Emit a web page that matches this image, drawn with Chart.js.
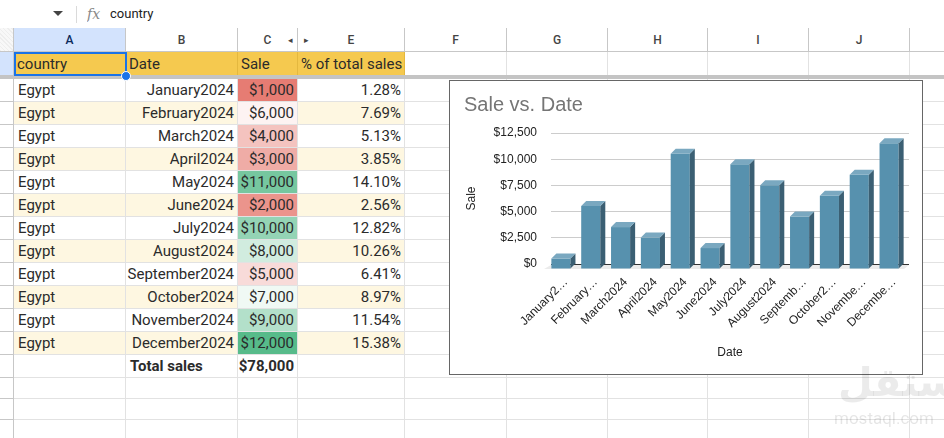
<!DOCTYPE html>
<html>
<head>
<meta charset="utf-8">
<script src="https://cdn.jsdelivr.net/npm/chart.js@4.4.1/dist/chart.umd.min.js"></script>
<style>
  html, body { margin: 0; padding: 0; background: #fff; }
  body { width: 944px; height: 438px; position: relative; overflow: hidden; font-family: Roboto, "Liberation Sans", sans-serif; }
  .c { position: absolute; box-sizing: border-box; white-space: nowrap; overflow: hidden; color: #2b2b2b; font-size: 15px; }
  #chartBox { position: absolute; left: 449px; top: 80px; width: 474px; height: 295px; box-sizing: border-box; border: 1px solid #666; background: #fff; z-index: 5; }
  #chartBox canvas { display: block; }
</style>
</head>
<body>
<div id="sheet"></div>
<div id="chartBox"><canvas id="myChart" width="472" height="293"></canvas></div>
<script>
// data
const country = 'Egypt';
const months = ['January2024', 'February2024', 'March2024', 'April2024', 'May2024', 'June2024',
  'July2024', 'August2024', 'September2024', 'October2024', 'November2024', 'December2024'];
const sales = [1000, 6000, 4000, 3000, 11000, 2000, 10000, 8000, 5000, 7000, 9000, 12000];
const shares = [1.28, 7.69, 5.13, 3.85, 14.10, 2.56, 12.82, 10.26, 6.41, 8.97, 11.54, 15.38];
const totalSales = 78000;
const headers = ['country', 'Date', 'Sale', '% of total sales'];
const colLetters = ['', 'A', 'B', 'C', 'E', 'F', 'G', 'H', 'I', 'J', ''];

// sheet layout
const colEdges = [0, 14, 126, 238, 298, 405, 507, 608, 708, 809, 910, 1010];
const sheet = document.getElementById('sheet');

function cell(x, y, w, h, text, st) {
  const d = document.createElement('div');
  d.className = 'c';
  d.style.left = x + 'px';
  d.style.top = y + 'px';
  d.style.width = w + 'px';
  d.style.height = h + 'px';
  d.style.lineHeight = h + 'px';
  d.textContent = text || '';
  Object.assign(d.style, st || {});
  sheet.appendChild(d);
  return d;
}

const money = v => '$' + v.toLocaleString('en-US');

// toolbar
cell(0, 0, 944, 29, '', {borderBottom: '1px solid #c7c7c7'});
cell(53, 11, 0, 0, '', {borderLeft: '5px solid transparent', borderRight: '5px solid transparent', borderTop: '5px solid #444', width: '0', height: '0'});
cell(76, 6, 1, 17, '', {background: '#dadada'});
cell(87, 3, 20, 22, 'fx', {fontFamily: '"DejaVu Serif", serif', fontStyle: 'italic', color: '#888', fontSize: '14px'});
cell(110, 3, 120, 22, 'country', {fontSize: '13px', color: '#222'});

// column header row
for (let i = 0; i < colLetters.length; i++) {
  const x = colEdges[i], w = colEdges[i + 1] - colEdges[i];
  cell(x, 28, w, 24, colLetters[i], {
    textAlign: 'center', fontSize: '12px', fontWeight: '500',
    borderRight: '1px solid #c7c7c7', borderBottom: '1px solid #c7c7c7',
    background: i === 1 ? '#d3e3fd' : (i === 0 ? 'repeating-linear-gradient(45deg,#eee 0 1px,#f8f8f8 1px 3px)' : '#fff'),
    color: i === 1 ? '#0b2a5c' : '#444'
  });
}
cell(284, 28, 12, 24, '◂', {fontSize: '9px', color: '#444', textAlign: 'center'});
cell(300, 28, 12, 24, '▸', {fontSize: '9px', color: '#444', textAlign: 'center'});

// row tops
const rowTops = [52];
const rowHs = [24];
for (let r = 0; r < 13; r++) { rowTops.push(79 + r * 23); rowHs.push(23); }
for (let r = 0; r < 3; r++) { rowTops.push(378 + r * 21); rowHs.push(21); }

// color scale for Sale column
function scaleColor(v) {
  const mid = 6500, lo = 1000, hi = 12000;
  const red = [230, 124, 115], green = [87, 187, 138], white = [255, 255, 255];
  let t, c;
  if (v <= mid) { t = (mid - v) / (mid - lo); c = red; } else { t = (v - mid) / (hi - mid); c = green; }
  const m = white.map((w, k) => Math.round(w + (c[k] - w) * t));
  return 'rgb(' + m.join(',') + ')';
}

for (let r = 0; r < rowTops.length; r++) {
  const y = rowTops[r], h = rowHs[r];
  for (let i = 0; i < colLetters.length; i++) {
    const x = colEdges[i], w = colEdges[i + 1] - colEdges[i];
    let bg = '#fff', text = '', st = {};
    const grid = (i === 0) ? '#c7c7c7' : '#e2e2e2';
    if (r === 0 && i >= 1 && i <= 4) { bg = '#f5c94f'; text = headers[i - 1]; st = {borderRight: '1px solid #e4b83f', paddingLeft: '3px'}; }
    if (r === 0 && i === 0) bg = '#d3e3fd';
    if (r >= 1 && r <= 12) {
      const k = r - 1;
      if (i >= 1 && i <= 4 && k % 2 === 1) bg = '#fef7e1';
      if (i === 1) { text = country; st = {paddingLeft: '4px'}; }
      if (i === 2) { text = months[k]; st = {textAlign: 'right', paddingRight: '3px'}; }
      if (i === 3) { text = money(sales[k]); bg = scaleColor(sales[k]); st = {textAlign: 'right', paddingRight: '3px'}; }
      if (i === 4) { text = shares[k].toFixed(2) + '%'; st = {textAlign: 'right', paddingRight: '3px'}; }
    }
    if (r === 13) {
      if (i === 2) { text = 'Total sales'; st = {fontWeight: 'bold', paddingLeft: '4px'}; }
      if (i === 3) { text = money(totalSales); st = {fontWeight: 'bold', textAlign: 'right', paddingRight: '3px'}; }
    }
    cell(x, y, w, h, text, Object.assign({background: bg, borderRight: '1px solid ' + grid, borderBottom: '1px solid ' + grid}, st));
  }
}
// frozen row separator
cell(0, 75, 944, 4, '', {background: '#c4c4c4'});
// selection
cell(14, 52, 113, 24, '', {border: '2px solid #1a73e8', zIndex: 3});
cell(121, 71, 10, 10, '', {background: '#1a73e8', borderRadius: '50%', border: '1px solid #fff', zIndex: 4});

// watermark
cell(838, 354, 106, 56, 'مستقل', {fontFamily: '"DejaVu Sans", sans-serif', fontWeight: 'bold', fontSize: '40px', color: 'rgba(0,0,0,0.08)', zIndex: 6, overflow: 'visible'});
cell(834, 406, 110, 24, 'mostaql.com', {fontFamily: 'Roboto, sans-serif', fontSize: '17px', color: 'rgba(0,0,0,0.10)', zIndex: 6});

// chart
Chart.defaults.font.family = '"Liberation Sans", Arial, sans-serif';
Chart.defaults.font.size = 12;

const frontColor = '#5791ae';
const topColor = '#7aa8c0';
const sideColor = '#3b5f73';
const depth = 5;

const measureCtx = document.createElement('canvas').getContext('2d');
measureCtx.font = '12px "Liberation Sans", Arial, sans-serif';
function shorten(lbl) {
  const maxW = 65.5;
  if (measureCtx.measureText(lbl).width <= maxW) return lbl;
  let s = lbl;
  while (s.length > 1 && measureCtx.measureText(s + '…').width > maxW) s = s.slice(0, -1);
  return s + '…';
}

const bar3d = {
  id: 'bar3d',
  beforeDatasetsDraw(chart) {
    const {ctx, chartArea} = chart;
    ctx.save();
    ctx.fillStyle = '#ebebeb';
    ctx.beginPath();
    ctx.moveTo(chartArea.left, chartArea.bottom + 1);
    ctx.lineTo(chartArea.right, chartArea.bottom + 1);
    ctx.lineTo(chartArea.right - depth, chartArea.bottom + depth);
    ctx.lineTo(chartArea.left - depth - 2, chartArea.bottom + depth);
    ctx.closePath();
    ctx.fill();
    ctx.restore();
    ctx.save();
    ctx.translate(-depth, depth);
  },
  afterDatasetsDraw(chart) {
    const ctx = chart.ctx;
    chart.getDatasetMeta(0).data.forEach(b => {
      const l = b.x - b.width / 2, r = b.x + b.width / 2, t = b.y, bt = b.base;
      ctx.fillStyle = sideColor;
      ctx.beginPath();
      ctx.moveTo(r, t); ctx.lineTo(r + depth, t - depth); ctx.lineTo(r + depth, bt - depth); ctx.lineTo(r, bt);
      ctx.closePath(); ctx.fill();
      ctx.fillStyle = topColor;
      ctx.beginPath();
      ctx.moveTo(l, t); ctx.lineTo(l + depth, t - depth); ctx.lineTo(r + depth, t - depth); ctx.lineTo(r, t);
      ctx.closePath(); ctx.fill();
    });
    ctx.restore();
  }
};

const myChart = new Chart('myChart', {
  type: 'bar',
  data: {
    labels: months,
    datasets: [{
      label: 'Sale',
      data: sales,
      backgroundColor: frontColor,
      borderWidth: 0,
      barPercentage: 0.64,
      categoryPercentage: 1
    }]
  },
  options: {
    responsive: false,
    animation: false,
    layout: {padding: {left: 14, right: 13, top: 0, bottom: 14}},
    plugins: {
      legend: {display: false},
      tooltip: {enabled: false},
      title: {
        display: true,
        text: 'Sale vs. Date',
        align: 'start',
        color: '#757575',
        font: {size: 20, weight: 'normal'},
        padding: {top: 12, bottom: 16}
      }
    },
    scales: {
      x: {
        grid: {display: false, drawTicks: false},
        border: {display: false},
        ticks: {
          color: '#222',
          autoSkip: false,
          maxRotation: 45,
          minRotation: 45,
          padding: 11,
          callback: function (value) { return shorten(this.getLabelForValue(value)); }
        },
        title: {display: true, text: 'Date', color: '#222', padding: 0},
        afterFit: s => { s.height = 96; }
      },
      y: {
        min: 0,
        max: 12500,
        ticks: {
          stepSize: 2500,
          color: '#222',
          padding: 14,
          callback: v => money(v)
        },
        grid: {drawTicks: false, color: c => c.tick && c.tick.value === 0 ? '#333' : '#ccc'},
        border: {display: false},
        title: {display: true, text: 'Sale', color: '#222', padding: 0},
        afterFit: s => { s.width = 87; }
      }
    }
  },
  plugins: [bar3d]
});
</script>
</body>
</html>
